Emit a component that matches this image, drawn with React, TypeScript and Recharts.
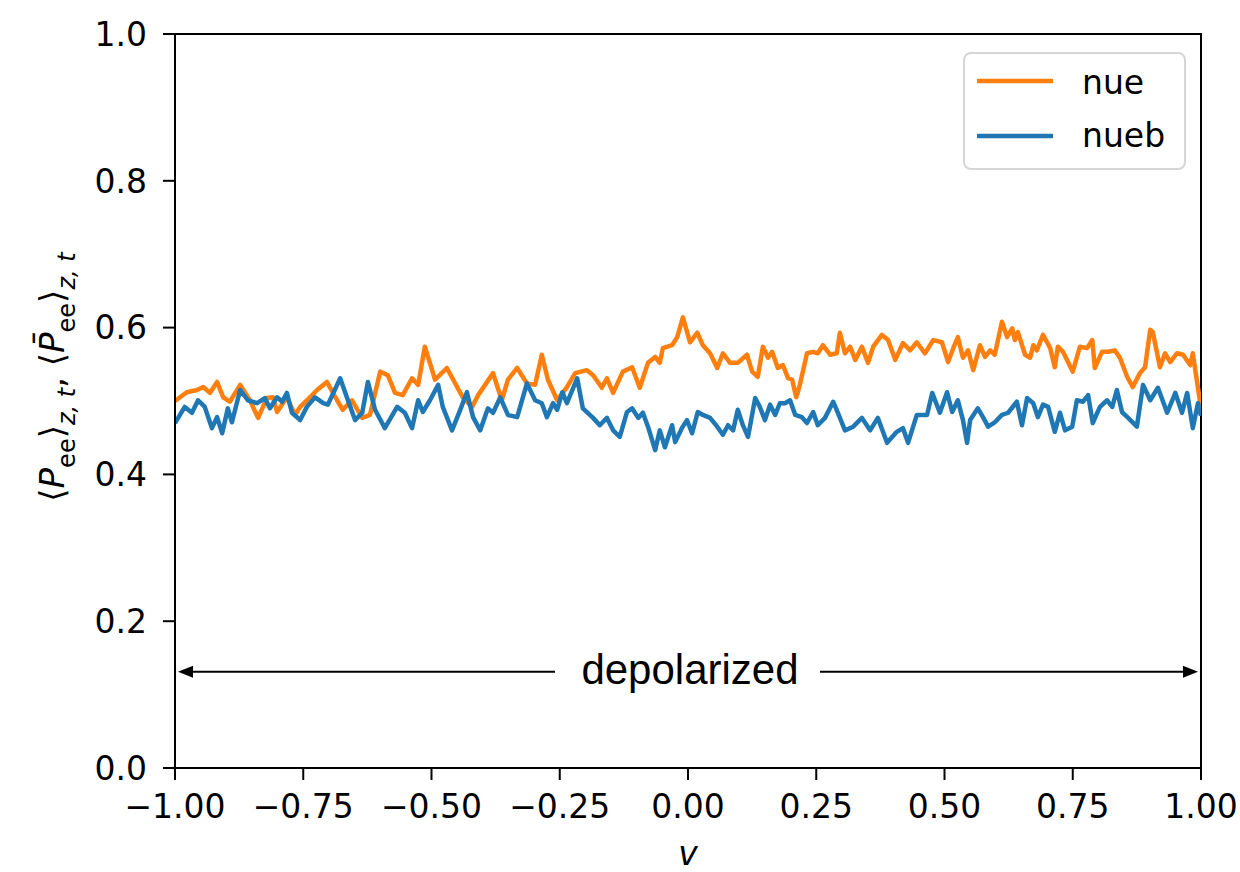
import { LineChart, Line, XAxis, YAxis, Legend, ReferenceArea, ReferenceLine } from 'recharts';

const nueV = [
  -1, -0.977, -0.957, -0.945, -0.932, -0.918, -0.906, -0.893, -0.873, -0.854, -0.838, -0.821, -0.809, -0.801,
  -0.782, -0.766, -0.756, -0.737, -0.723, -0.704, -0.684, -0.673, -0.655, -0.635, -0.62, -0.6, -0.585, -0.571,
  -0.556, -0.538, -0.526, -0.513, -0.493, -0.47, -0.45, -0.439, -0.421, -0.409, -0.38, -0.363, -0.351, -0.333,
  -0.314, -0.298, -0.285, -0.273, -0.255, -0.236, -0.22, -0.197, -0.185, -0.168, -0.158, -0.146, -0.127, -0.109,
  -0.094, -0.078, -0.064, -0.055, -0.049, -0.031, -0.021, -0.01, 0.004, 0.018, 0.029, 0.043, 0.057, 0.068,
  0.082, 0.097, 0.115, 0.125, 0.136, 0.146, 0.156, 0.164, 0.175, 0.185, 0.195, 0.203, 0.211, 0.218, 0.232,
  0.244, 0.253, 0.263, 0.277, 0.29, 0.296, 0.306, 0.316, 0.326, 0.339, 0.351, 0.361, 0.378, 0.39, 0.404, 0.419,
  0.433, 0.446, 0.462, 0.478, 0.495, 0.507, 0.517, 0.526, 0.536, 0.546, 0.556, 0.569, 0.579, 0.589, 0.598,
  0.612, 0.622, 0.632, 0.637, 0.643, 0.657, 0.667, 0.673, 0.68, 0.692, 0.706, 0.715, 0.721, 0.731, 0.75, 0.764,
  0.778, 0.788, 0.793, 0.807, 0.819, 0.832, 0.842, 0.856, 0.867, 0.881, 0.891, 0.901, 0.906, 0.92, 0.93, 0.94,
  0.953, 0.965, 0.979, 0.984, 1,
];
const nueP = [
  0.5, 0.512, 0.515, 0.519, 0.511, 0.526, 0.505, 0.499, 0.522, 0.501, 0.477, 0.504, 0.505, 0.485,
  0.505, 0.481, 0.492, 0.505, 0.515, 0.526, 0.501, 0.488, 0.501, 0.477, 0.481, 0.54, 0.535, 0.511,
  0.508, 0.531, 0.522, 0.574, 0.529, 0.545, 0.519, 0.505, 0.492, 0.508, 0.538, 0.501, 0.529, 0.545,
  0.524, 0.522, 0.563, 0.529, 0.501, 0.519, 0.538, 0.542, 0.535, 0.518, 0.531, 0.511, 0.54, 0.546,
  0.518, 0.552, 0.56, 0.552, 0.572, 0.576, 0.587, 0.614, 0.58, 0.593, 0.576, 0.565, 0.545, 0.565,
  0.552, 0.552, 0.563, 0.54, 0.533, 0.574, 0.559, 0.567, 0.545, 0.549, 0.531, 0.529, 0.505, 0.522, 0.565,
  0.567, 0.565, 0.576, 0.563, 0.565, 0.593, 0.565, 0.574, 0.556, 0.574, 0.552, 0.574, 0.59, 0.583, 0.556, 0.579,
  0.569, 0.58, 0.565, 0.583, 0.58, 0.553, 0.572, 0.587, 0.559, 0.569, 0.542, 0.576, 0.56, 0.569, 0.563,
  0.608, 0.587, 0.599, 0.583, 0.594, 0.563, 0.559, 0.576, 0.569, 0.59, 0.572, 0.546, 0.574, 0.567, 0.54, 0.574,
  0.572, 0.583, 0.545, 0.567, 0.567, 0.569, 0.559, 0.533, 0.519, 0.538, 0.546, 0.597, 0.594, 0.546, 0.565, 0.553,
  0.565, 0.563, 0.549, 0.565, 0.49,
];

const nuebV = [
  -1, -0.981, -0.967, -0.955, -0.942, -0.928, -0.918, -0.908, -0.897, -0.889, -0.873, -0.858, -0.84, -0.825,
  -0.815, -0.801, -0.791, -0.782, -0.772, -0.756, -0.743, -0.727, -0.711, -0.702, -0.678, -0.665, -0.649,
  -0.635, -0.624, -0.61, -0.591, -0.567, -0.552, -0.538, -0.526, -0.517, -0.503, -0.487, -0.478, -0.46, -0.444,
  -0.431, -0.419, -0.405, -0.39, -0.38, -0.366, -0.351, -0.333, -0.314, -0.298, -0.285, -0.275, -0.263, -0.255,
  -0.245, -0.236, -0.216, -0.205, -0.185, -0.172, -0.158, -0.146, -0.133, -0.119, -0.109, -0.097, -0.088,
  -0.078, -0.064, -0.055, -0.045, -0.031, -0.025, -0.012, -0.002, 0.008, 0.019, 0.029, 0.043, 0.057, 0.068,
  0.078, 0.088, 0.097, 0.107, 0.117, 0.131, 0.14, 0.15, 0.16, 0.17, 0.179, 0.189, 0.199, 0.209, 0.222, 0.232,
  0.244, 0.253, 0.267, 0.283, 0.292, 0.306, 0.322, 0.339, 0.355, 0.37, 0.388, 0.407, 0.419, 0.429, 0.446,
  0.466, 0.476, 0.491, 0.505, 0.515, 0.526, 0.536, 0.544, 0.55, 0.565, 0.575, 0.585, 0.598, 0.612, 0.624,
  0.641, 0.651, 0.661, 0.673, 0.682, 0.692, 0.702, 0.715, 0.725, 0.735, 0.749, 0.758, 0.77, 0.78, 0.789,
  0.803, 0.817, 0.827, 0.836, 0.846, 0.858, 0.875, 0.887, 0.901, 0.916, 0.934, 0.95, 0.963, 0.973, 0.984,
  0.994, 1,
];
const nuebP = [
  0.47, 0.492, 0.484, 0.501, 0.492, 0.463, 0.478, 0.456, 0.49, 0.471, 0.515, 0.501, 0.497, 0.504,
  0.49, 0.505, 0.499, 0.511, 0.484, 0.474, 0.492, 0.505, 0.497, 0.495, 0.531, 0.505, 0.474,
  0.484, 0.526, 0.488, 0.463, 0.492, 0.484, 0.463, 0.501, 0.485, 0.501, 0.522, 0.492, 0.46, 0.488,
  0.512, 0.478, 0.46, 0.49, 0.484, 0.505, 0.481, 0.478, 0.524, 0.501, 0.497, 0.478, 0.497, 0.488,
  0.512, 0.497, 0.531, 0.49, 0.477, 0.467, 0.477, 0.46, 0.451, 0.485, 0.49, 0.477, 0.484,
  0.465, 0.433, 0.46, 0.437, 0.467, 0.444, 0.463, 0.474, 0.456, 0.485, 0.481, 0.477, 0.465, 0.454,
  0.467, 0.46, 0.488, 0.467, 0.451, 0.504, 0.492, 0.474, 0.495, 0.481, 0.497, 0.497, 0.501, 0.481, 0.478, 0.47,
  0.485, 0.467, 0.477, 0.499, 0.484, 0.46, 0.465, 0.477, 0.46, 0.477, 0.443, 0.458, 0.463, 0.443, 0.481,
  0.481, 0.511, 0.484, 0.512, 0.485, 0.501, 0.474, 0.443, 0.474, 0.49, 0.478, 0.465, 0.471, 0.481, 0.484,
  0.499, 0.467, 0.504, 0.497, 0.478, 0.495, 0.492, 0.458, 0.484, 0.46, 0.465, 0.501, 0.499, 0.508, 0.47,
  0.492, 0.501, 0.492, 0.515, 0.485, 0.477, 0.465, 0.522, 0.501, 0.518, 0.484, 0.511, 0.484, 0.511, 0.463,
  0.497, 0.48,
];

const xTicks = [-1, -0.75, -0.5, -0.25, 0, 0.25, 0.5, 0.75, 1];
const yTicks = [0, 0.2, 0.4, 0.6, 0.8, 1];

const nueData = nueV.map((v, i) => ({ v, p: nueP[i] }));
const nuebData = nuebV.map((v, i) => ({ v, p: nuebP[i] }));

const FONT = 'DejaVu Sans';
const ORANGE = '#ff7f0e';
const BLUE = '#1f77b4';

const fmtX = (v: number) => v.toFixed(2).replace('-', '\u2212');
const fmtY = (v: number) => v.toFixed(1);

function YTitle(props: any) {
  const vb = props.viewBox || { y: 34, height: 734 };
  const cy = vb.y + vb.height / 2 - 24;
  const sub = 24;
  return (
    <text
      transform={`translate(64, ${cy}) rotate(-90)`}
      textAnchor="middle"
      fontFamily={FONT}
      fontSize={34}
      fill="#000"
    >
      <tspan>⟨</tspan>
      <tspan fontStyle="italic">P</tspan>
      <tspan fontSize={sub} dy={11}>ee</tspan>
      <tspan dy={-11}>⟩</tspan>
      <tspan fontSize={sub} dy={11} fontStyle="italic">z, t</tspan>
      <tspan dy={-11}>, ⟨</tspan>
      <tspan fontStyle="italic">P̄</tspan>
      <tspan fontSize={sub} dy={11}>ee</tspan>
      <tspan dy={-11}>⟩</tspan>
      <tspan fontSize={sub} dy={11} fontStyle="italic">z, t</tspan>
    </text>
  );
}

function XTitle(props: any) {
  const vb = props.viewBox || { x: 175, y: 768, width: 1026, height: 104 };
  return (
    <text
      x={vb.x + vb.width / 2}
      y={vb.y + 97}
      textAnchor="middle"
      fontFamily={FONT}
      fontSize={33}
      fontStyle="italic"
      fill="#000"
    >
      v
    </text>
  );
}

// double arrow across the whole range with the label sitting in a gap
function DepolarizedArrow(props: any) {
  const { x1, y1, x2 } = props;
  const mid = (x1 + x2) / 2;
  const left = x1 + 3;
  const right = x2 - 3;
  const head = 15;
  const half = 6;
  return (
    <g>
      <line x1={left + head} y1={y1} x2={mid - 133} y2={y1} stroke="#000" strokeWidth={2} />
      <line x1={mid + 132} y1={y1} x2={right - head} y2={y1} stroke="#000" strokeWidth={2} />
      <polygon points={`${left},${y1} ${left + head},${y1 - half} ${left + head},${y1 + half}`} fill="#000" />
      <polygon points={`${right},${y1} ${right - head},${y1 - half} ${right - head},${y1 + half}`} fill="#000" />
      <text x={mid + 2} y={y1 + 12} textAnchor="middle" fontFamily="Liberation Sans, Arial" fontSize={42} fill="#000">
        depolarized
      </text>
    </g>
  );
}

function LegendBox(props: any) {
  const items = props.payload || [];
  return (
    <svg width={224} height={120} style={{ display: 'block' }}>
      <rect x={1} y={1} width={221} height={116} rx={7} fill="#fff" fillOpacity={0.8} stroke="#d6d6d6" strokeWidth={2} />
      {items.map((it: any, i: number) => (
        <g key={it.value}>
          <line x1={14} x2={90} y1={29 + i * 55} y2={29 + i * 55} stroke={it.color} strokeWidth={4.5} />
          <text x={119} y={42 + i * 53} fontFamily={FONT} fontSize={33} fill="#000">
            {it.value}
          </text>
        </g>
      ))}
    </svg>
  );
}

export default function App() {
  return (
    <div style={{ position: 'absolute', left: 0, top: 0, width: 1240, height: 872, background: '#fff' }}>
      <LineChart width={1240} height={872} margin={{ top: 34, right: 39, bottom: 0, left: 0 }}>
        <XAxis
          type="number"
          dataKey="v"
          domain={[-1, 1]}
          ticks={xTicks}
          tickFormatter={fmtX}
          allowDataOverflow
          height={104}
          tickSize={12}
          tickMargin={15}
          axisLine={{ stroke: '#000', strokeWidth: 2 }}
          tickLine={{ stroke: '#000', strokeWidth: 2 }}
          tick={{ fill: '#000', fontSize: 33, fontFamily: FONT }}
          label={XTitle}
        />
        <YAxis
          type="number"
          domain={[0, 1]}
          ticks={yTicks}
          tickFormatter={fmtY}
          allowDataOverflow
          width={175}
          tickSize={12}
          tickMargin={16}
          axisLine={{ stroke: '#000', strokeWidth: 2 }}
          tickLine={{ stroke: '#000', strokeWidth: 2 }}
          tick={{ fill: '#000', fontSize: 33, fontFamily: FONT }}
          label={YTitle}
        />
        <ReferenceArea x1={-1} x2={1} y1={0} y2={1} fill="none" stroke="#000" strokeWidth={2} />
        <Line
          data={nueData}
          dataKey="p"
          name="nue"
          type="linear"
          stroke={ORANGE}
          strokeWidth={4.5}
          strokeLinejoin="round"
          dot={false}
          isAnimationActive={false}
        />
        <Line
          data={nuebData}
          dataKey="p"
          name="nueb"
          type="linear"
          stroke={BLUE}
          strokeWidth={4.5}
          strokeLinejoin="round"
          dot={false}
          isAnimationActive={false}
        />
        <ReferenceLine
          segment={[
            { x: -1, y: 0.131 },
            { x: 1, y: 0.131 },
          ]}
          shape={DepolarizedArrow}
        />
        <Legend
          layout="vertical"
          align="center"
          verticalAlign="middle"
          content={LegendBox}
          wrapperStyle={{ left: 963, top: 52, width: 224, height: 120 }}
        />
      </LineChart>
    </div>
  );
}
